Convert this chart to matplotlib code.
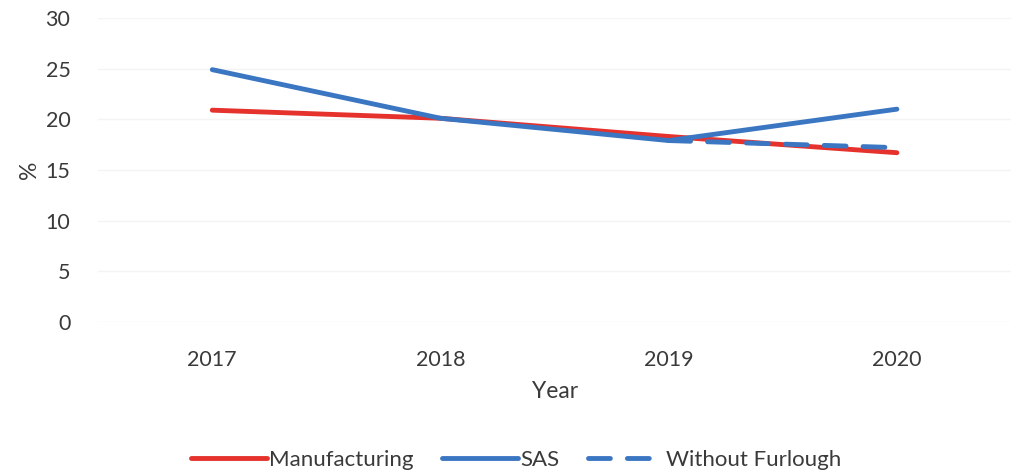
import matplotlib
matplotlib.use('Agg')
import matplotlib.pyplot as plt

plt.rcParams['font.family'] = ['Lato', 'DejaVu Sans']

years = ['2017', '2018', '2019', '2020']
manufacturing = [20.9, 20.1, 18.3, 16.7]
sas = [24.9, 20.1, 17.9, 21.0]
furlough_years = ['2019', '2020']
without_furlough = [17.9, 17.2]

RED = '#E5322D'
BLUE = '#3B76C2'
TEXT = '#3a3a3a'

fig = plt.figure(figsize=(10.12, 4.74), dpi=100)
ax = fig.add_axes([0.097, 0.321, 0.902, 0.641])

x = list(range(len(years)))
xf = [years.index(y) for y in furlough_years]

ax.plot(x, manufacturing, color=RED, lw=3.5, solid_capstyle='round', label='Manufacturing', zorder=3)
ax.plot(x, sas, color=BLUE, lw=3.5, solid_capstyle='round', label='SAS', zorder=4)
ax.plot(xf, without_furlough, color=BLUE, lw=3.5, dashes=(4.5, 3.5), dash_capstyle='round',
        label='Without Furlough', zorder=4)

ax.set_xlim(-0.5, len(years) - 0.5)
ax.set_ylim(0, 30)
ax.set_yticks(range(0, 31, 5))
ax.set_xticks(x)
ax.set_xticklabels(years)
ax.grid(axis='y', color='#f4f4f4', lw=1)
ax.set_axisbelow(True)
for s in ax.spines.values():
    s.set_visible(False)
ax.tick_params(length=0, labelsize=15.5, colors=TEXT)
ax.tick_params(axis='x', pad=20)
ax.tick_params(axis='y', pad=20)

ax.set_xlabel('Year', fontsize=16.5, color=TEXT, labelpad=8)
ax.set_ylabel('%', fontsize=16.5, color=TEXT, labelpad=4)

leg = fig.legend(loc='lower center', bbox_to_anchor=(0.51, -0.033), ncol=3, frameon=False,
                 fontsize=16, handlelength=3.4, handletextpad=0.1, columnspacing=1.3)
for t in leg.get_texts():
    t.set_color(TEXT)

fig.savefig('out.png', dpi=100, facecolor='white')
